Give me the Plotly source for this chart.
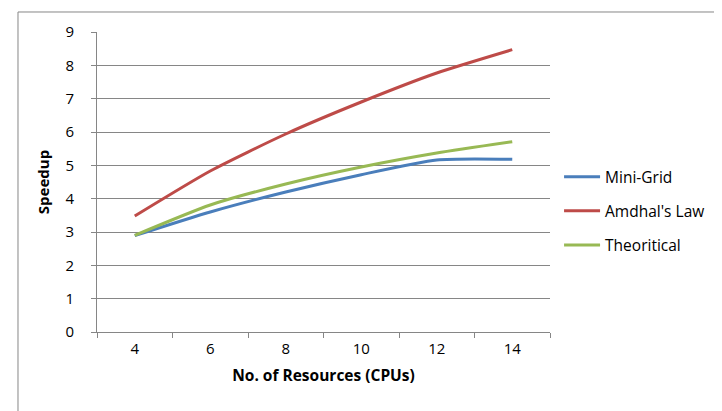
import plotly.graph_objects as go

categories = ["4", "6", "8", "10", "12", "14"]
mini_grid = [2.89, 3.60, 4.20, 4.72, 5.16, 5.18]
amdahl = [3.48, 4.83, 5.94, 6.90, 7.77, 8.47]
theoretical = [2.90, 3.81, 4.44, 4.95, 5.37, 5.71]
y_ticks = [0, 1, 2, 3, 4, 5, 6, 7, 8, 9]

FONT = "Open Sans"

fig = go.Figure()
for i, (name, vals, col) in enumerate([("Mini-Grid", mini_grid, "#4A7EBB"),
                                       ("Amdhal's Law", amdahl, "#BE4B48"),
                                       ("Theoritical", theoretical, "#98B954")]):
    fig.add_trace(go.Scatter(x=categories, y=vals, name=name, mode="lines",
                             legendgroup=f"g{i}",
                             line=dict(color=col, width=3, shape="spline", smoothing=0.6)))

fig.update_layout(
    width=722, height=411,
    margin=dict(l=89, r=180, t=24, b=87),
    paper_bgcolor="white", plot_bgcolor="white",
    font=dict(family=FONT, size=15, color="black"),
    showlegend=True,
    legend=dict(x=1.02, y=0.403, xanchor="left", yanchor="middle",
                font=dict(family=FONT, size=15.5), tracegroupgap=11,
                itemwidth=36, bgcolor="rgba(0,0,0,0)"),
    xaxis=dict(type="category", tickson="boundaries", ticks="outside", ticklen=5,
               range=[-0.5, 5.5],
               tickcolor="#868686", showline=True, linecolor="#868686", linewidth=1,
               showgrid=False, tickfont=dict(family=FONT, size=15), ticklabelstandoff=3,
               title=dict(text="<b>No. of Resources (CPUs)</b>", font=dict(family=FONT, size=15.5), standoff=13)),
    yaxis=dict(range=[0, 9], tickvals=y_ticks, ticks="outside", ticklen=5,
               tickcolor="#868686", showline=True, linecolor="#868686", linewidth=1,
               showgrid=True, gridcolor="#868686", gridwidth=1, zeroline=False,
               tickfont=dict(family=FONT, size=15), ticklabelstandoff=14,
               title=dict(text="<b>Speedup</b>", font=dict(family=FONT, size=15), standoff=12)),
    shapes=[dict(type="rect", xref="paper", yref="paper",
                 x0=-0.1744, x1=1.3929, y0=-0.2833, y1=1.0667,
                 line=dict(color="#868686", width=1), fillcolor="rgba(0,0,0,0)", layer="below")],
)

fig.write_html("out.html")
